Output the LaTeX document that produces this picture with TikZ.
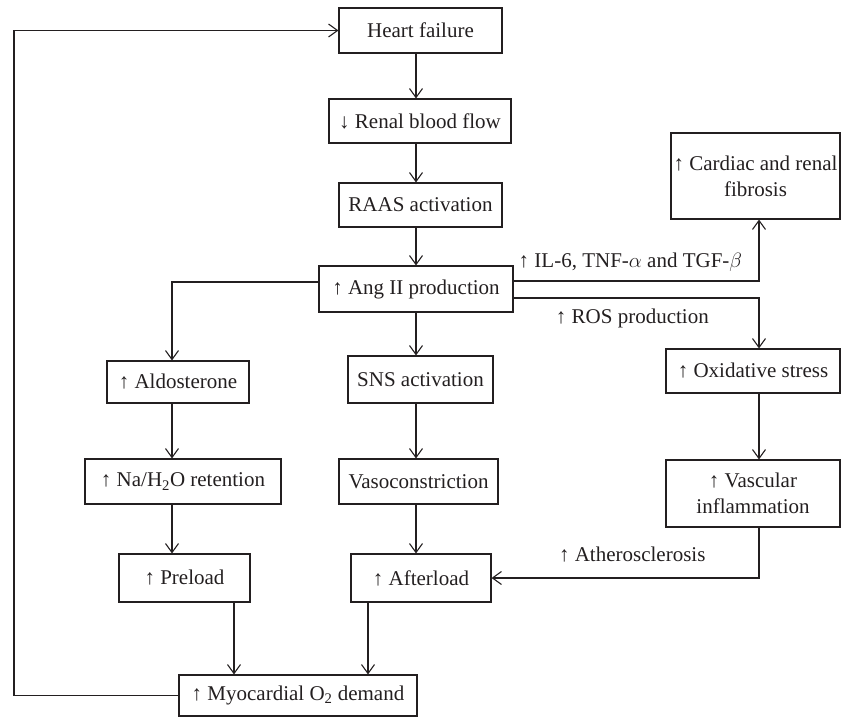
\documentclass[tikz,border=0pt]{standalone}
\usepackage{fontspec}
\setmainfont{Liberation Serif}
\usepackage{amsmath}
\usetikzlibrary{arrows.meta}
\definecolor{ink}{HTML}{231F20}

\begin{document}
\begin{tikzpicture}[x=1pt, y=-1pt, color=ink, line width=1.1pt,
	>={Straight Barb[length=9pt, width=13pt]},
	box/.style={draw, inner sep=0pt, align=center, font=\fontsize{21}{26}\selectfont},
	lbl/.style={inner sep=2pt, font=\fontsize{21}{26}\selectfont}]
	\useasboundingbox (0,0) rectangle (841,717);

	% boxes
	\node[box, minimum width=163, minimum height=45] (hf) at (420.5,30.5) {Heart failure};
	\node[box, minimum width=182, minimum height=44] (renal) at (420,121) {↓ Renal blood flow};
	\node[box, minimum width=163, minimum height=44] (raas) at (420.5,205) {RAAS activation};
	\node[box, minimum width=194, minimum height=46] (ang) at (416,289) {↑ Ang II production};
	\node[box, minimum width=169, minimum height=86] (fib) at (755.5,176) {↑ Cardiac and renal\\fibrosis};
	\node[box, minimum width=142, minimum height=42] (aldo) at (178,382) {↑ Aldosterone};
	\node[box, minimum width=145, minimum height=47] (sns) at (420.5,379.5) {SNS activation};
	\node[box, minimum width=174, minimum height=44] (ox) at (753,371) {↑ Oxidative stress};
	\node[box, minimum width=196, minimum height=45] (na) at (183,481.5) {↑ Na/H\textsubscript{2}O retention};
	\node[box, minimum width=159, minimum height=45] (vaso) at (418.5,481.5) {Vasoconstriction};
	\node[box, minimum width=174, minimum height=67] (vasc) at (753,493.5) {↑ Vascular\\inflammation};
	\node[box, minimum width=131, minimum height=48] (pre) at (184.5,578) {↑ Preload};
	\node[box, minimum width=140, minimum height=48] (after) at (421,578) {↑ Afterload};
	\node[box, minimum width=238, minimum height=41] (myo) at (298,695.5) {↑ Myocardial O\textsubscript{2} demand};

	% columns of the arrows
	\coordinate (c1) at (172,0);
	\coordinate (c2) at (416,0);
	\coordinate (c3) at (759,0);
	\coordinate (d1) at (234,0);
	\coordinate (d2) at (368,0);
	\coordinate (back) at (14,0);

	\foreach \c/\a/\b in {c2/hf/renal, c2/renal/raas, c2/raas/ang, c2/ang/sns, c2/sns/vaso, c2/vaso/after, c1/aldo/na, c1/na/pre, c3/ox/vasc, d1/pre/myo, d2/after/myo}
	{
		\draw[->] (\c |- \a.south) -- (\c |- \b.north);
	}
	\draw[->] ([yshift=7pt]ang.west) -| (c1 |- aldo.north);
	\draw[->] ([yshift=8pt]ang.east) -| (c3 |- fib.south) node[lbl, above=7pt, pos=0.238] {↑ IL-6, TNF-$\alpha$ and TGF-$\beta$};
	\draw[->] ([yshift=-9pt]ang.east) -| (c3 |- ox.north) node[lbl, below=8pt, pos=0.242] {↑ ROS production};
	\draw[->] (c3 |- vasc.south) |- (after.east) node[lbl, above=13pt, pos=0.737] {↑ Atherosclerosis};
	\draw[->] (myo.west) -| (back |- hf.west) -- (hf.west);
\end{tikzpicture}
\end{document}
